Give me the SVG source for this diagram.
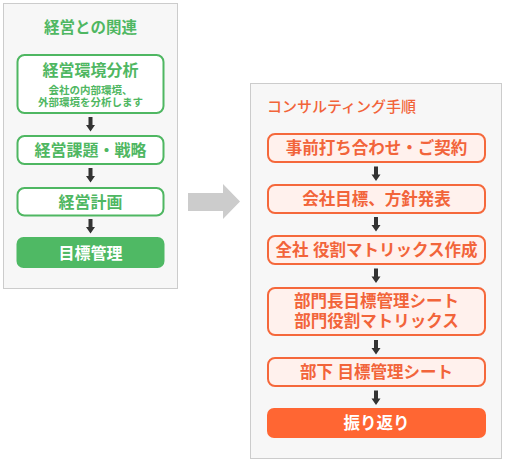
<svg xmlns="http://www.w3.org/2000/svg" width="505" height="462" viewBox="0 0 505 462">
<defs>
<style>
text{font-family:"Liberation Sans","Noto Sans CJK JP",sans-serif;}
.panel{fill:#f7f7f7;stroke:#cccccc;stroke-width:1;}
.gbox{fill:#ffffff;stroke:#4fb762;stroke-width:2;}
.gfill{fill:#4fb964;}
.gt{fill:#4fb762;font-weight:bold;text-anchor:middle;}
.obox{fill:#fff1ed;stroke:#f5683b;stroke-width:2;}
.ofill{fill:#ff6633;}
.ot{fill:#f2643a;font-weight:bold;text-anchor:middle;font-size:16.5px;}
.wt{fill:#ffffff;font-weight:bold;text-anchor:middle;}
.arr{fill:#333333;}
</style>
<path id="da" d="M-2,0 H2 V8 H4.5 L0,14.5 L-4.5,8 H-2 Z"/>
</defs>

<g id="left-panel">
<rect class="panel" x="3.5" y="3.5" width="174" height="285"/>
<text class="gt" x="90.5" y="33" font-size="15.5">経営との関連</text>
</g>
<g id="l1">
<rect class="gbox" x="17.5" y="55" width="146" height="58" rx="7"/>
<text class="gt" x="90.5" y="76" font-size="16">経営環境分析</text>
<text class="gt" font-size="10.5" font-weight="500"><tspan x="90.5" y="93.8">会社の内部環境、</tspan><tspan x="90.5" y="106.4">外部環境を分析します</tspan></text>
</g>
<g id="l2">
<rect class="gbox" x="17.5" y="136" width="146" height="28" rx="7"/>
<text class="gt" x="90.5" y="156" font-size="16">経営課題・戦略</text>
</g>
<g id="l3">
<rect class="gbox" x="17.5" y="188" width="146" height="27.5" rx="7"/>
<text class="gt" x="90.5" y="207.5" font-size="16">経営計画</text>
</g>
<g id="l4">
<rect class="gfill" x="16.5" y="237" width="148" height="31" rx="7"/>
<text class="wt" x="90.5" y="258.5" font-size="16">目標管理</text>
</g>

<g id="right-panel">
<rect class="panel" x="250.5" y="83.5" width="251" height="375"/>
<text x="267" y="112" font-size="15" font-weight="500" fill="#f2643a">コンサルティング手順</text>
</g>
<g id="r1">
<rect class="obox" x="268" y="134" width="217" height="28" rx="7"/>
<text class="ot" x="376.5" y="154">事前打ち合わせ・ご契約</text>
</g>
<g id="r2">
<rect class="obox" x="268" y="185" width="217" height="28" rx="7"/>
<text class="ot" x="376.5" y="205">会社目標、方針発表</text>
</g>
<g id="r3">
<rect class="obox" x="268" y="236" width="217" height="28" rx="7"/>
<text class="ot" x="376.5" y="256">全社 役割マトリックス作成</text>
</g>
<g id="r4">
<rect class="obox" x="268" y="288" width="217" height="47" rx="7"/>
<text class="ot"><tspan x="376.5" y="307">部門長目標管理シート</tspan><tspan x="376.5" y="326.8">部門役割マトリックス</tspan></text>
</g>
<g id="r5">
<rect class="obox" x="268" y="358" width="217" height="28" rx="7"/>
<text class="ot" x="376.5" y="378">部下 目標管理シート</text>
</g>
<g id="r6">
<rect class="ofill" x="267" y="408" width="219" height="30" rx="7"/>
<text class="wt" x="376.5" y="429" font-size="16.5">振り返り</text>
</g>

<g id="connectors">
<use href="#da" class="arr" x="90.5" y="117"/>
<use href="#da" class="arr" x="90.5" y="168"/>
<use href="#da" class="arr" x="90.5" y="219"/>
<polygon points="188,193 223,193 223,184 240,201.5 223,219 223,211 188,211" fill="#cccccc"/>
<use href="#da" class="arr" x="376" y="166.5"/>
<use href="#da" class="arr" x="376" y="217"/>
<use href="#da" class="arr" x="376" y="268.5"/>
<use href="#da" class="arr" x="376" y="340"/>
<use href="#da" class="arr" x="376" y="390.5"/>
</g>
</svg>
